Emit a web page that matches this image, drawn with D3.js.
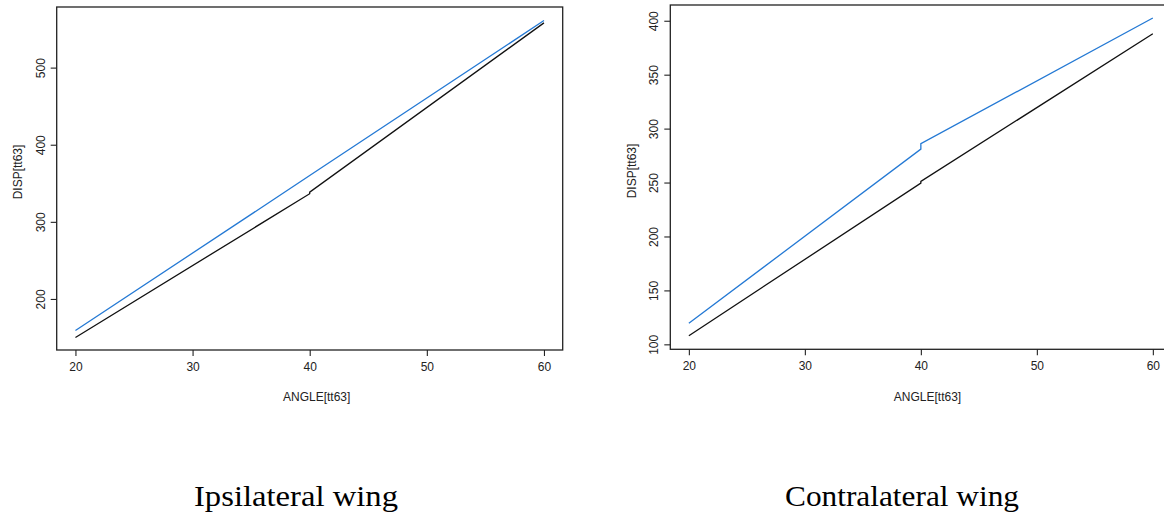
<!DOCTYPE html>
<html>
<head>
<meta charset="utf-8">
<script src="https://cdn.jsdelivr.net/npm/d3@7"></script>
<style>
  html, body { margin: 0; padding: 0; background: #fff; }
  svg { display: block; }
</style>
</head>
<body>
<svg id="chart" width="1164" height="516"></svg>
<script>
// ---- Data ----
const xTicks = [20, 30, 40, 50, 60];

// Ipsilateral wing
const ipsiBlueX = [20, 40, 60];
const ipsiBlueY = [159, 360, 561];
const ipsiBlackX = [20, 40, 40, 60];
const ipsiBlackY = [150, 336.5, 338.5, 558];
const ipsiYTicks = [200, 300, 400, 500];

// Contralateral wing
const contraBlueX = [20, 40, 40, 60];
const contraBlueY = [119.5, 281, 286, 402.5];
const contraBlackX = [20, 40, 40, 60];
const contraBlackY = [108, 249.5, 251, 388];
const contraYTicks = [100, 150, 200, 250, 300, 350, 400];

const xLabel = "ANGLE[tt63]";
const yLabel = "DISP[tt63]";
const captions = ["Ipsilateral wing", "Contralateral wing"];

const BLUE = "#2479d4";
const BLACK = "#111111";
const svg = d3.select("#chart");

function panel(cfg) {
  const x = d3.scaleLinear().domain([18.4, 61.6]).range([cfg.left, cfg.right]);
  const y = d3.scaleLinear().domain(cfg.yDomain).range([cfg.bottom, cfg.top]);
  const g = svg.append("g");

  // x axis
  const xa = g.append("g").attr("transform", `translate(0,${cfg.bottom})`)
    .call(d3.axisBottom(x).tickValues(xTicks).tickSize(6).tickPadding(6).tickFormat(d3.format("d")));
  xa.select(".domain").remove();
  xa.selectAll("line").attr("stroke", "#222").attr("stroke-width", 1.1);
  xa.selectAll("text").attr("font-family", "Liberation Sans, Arial, sans-serif")
    .attr("font-size", 12).attr("fill", "#222");

  // y axis
  const ya = g.append("g").attr("transform", `translate(${cfg.left},0)`)
    .call(d3.axisLeft(y).tickValues(cfg.yTicks).tickSize(6).tickFormat(d3.format("d")));
  ya.select(".domain").remove();
  ya.selectAll("line").attr("stroke", "#222").attr("stroke-width", 1.1);
  ya.selectAll("text")
    .attr("font-family", "Liberation Sans, Arial, sans-serif")
    .attr("font-size", 12).attr("fill", "#222")
    .attr("x", null).attr("dy", null)
    .attr("text-anchor", "middle")
    .attr("transform", `translate(${-cfg.ylabGap},0) rotate(-90)`)
    .attr("dy", "0.35em");

  // box
  g.append("rect")
    .attr("x", cfg.left).attr("y", cfg.top)
    .attr("width", cfg.right - cfg.left).attr("height", cfg.bottom - cfg.top)
    .attr("fill", "none").attr("stroke", "#222").attr("stroke-width", 1.3);

  const line = d3.line().x(d => x(d[0])).y(d => y(d[1]));
  g.append("path").datum(d3.zip(cfg.blackX, cfg.blackY))
    .attr("d", line).attr("fill", "none").attr("stroke", BLACK).attr("stroke-width", 1.3);
  g.append("path").datum(d3.zip(cfg.blueX, cfg.blueY))
    .attr("d", line).attr("fill", "none").attr("stroke", BLUE).attr("stroke-width", 1.3);

  // axis labels
  g.append("text").attr("x", cfg.xlabX).attr("y", 401)
    .attr("text-anchor", "middle")
    .attr("font-family", "Liberation Sans, Arial, sans-serif").attr("font-size", 12)
    .attr("fill", "#222").text(xLabel);
  g.append("text")
    .attr("transform", `translate(${cfg.ylabX},${cfg.ylabY}) rotate(-90)`)
    .attr("text-anchor", "middle").attr("dy", "0.35em")
    .attr("font-family", "Liberation Sans, Arial, sans-serif").attr("font-size", 12)
    .attr("fill", "#222").text(yLabel);

  // caption
  g.append("text").attr("x", cfg.capX).attr("y", 506)
    .attr("text-anchor", "middle")
    .attr("font-family", "Liberation Serif, Times New Roman, serif").attr("font-size", 30)
    .attr("textLength", cfg.capW).attr("lengthAdjust", "spacingAndGlyphs")
    .attr("fill", "#000").text(cfg.caption);
}

panel({
  left: 56.7, right: 562.7, top: 7, bottom: 350,
  yDomain: [133.8, 578.6], yTicks: ipsiYTicks,
  blueX: ipsiBlueX, blueY: ipsiBlueY, blackX: ipsiBlackX, blackY: ipsiBlackY,
  ylabGap: 16, xlabX: 316.7, ylabX: 18, ylabY: 172,
  capX: 296, capW: 204, caption: captions[0]
});

panel({
  left: 670.3, right: 1171.4, top: 5, bottom: 349.3,
  yDomain: [95.4, 414.6], yTicks: contraYTicks,
  blueX: contraBlueX, blueY: contraBlueY, blackX: contraBlackX, blackY: contraBlackY,
  ylabGap: 17, xlabX: 927.5, ylabX: 632, ylabY: 171,
  capX: 902, capW: 234, caption: captions[1]
});
</script>
</body>
</html>
